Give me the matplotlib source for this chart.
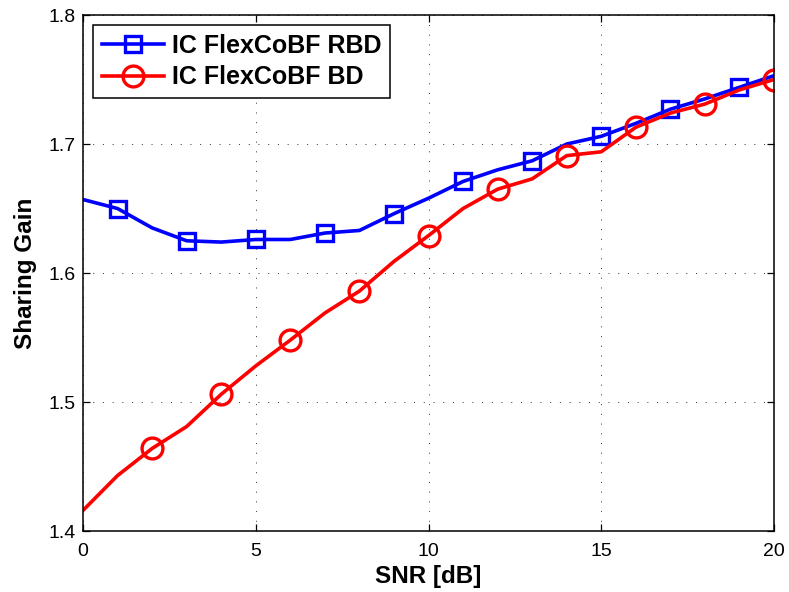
import matplotlib
matplotlib.use("Agg")
import matplotlib.pyplot as plt

snr = list(range(21))
rbd = [1.657, 1.650, 1.635, 1.625, 1.624, 1.626, 1.626, 1.631, 1.633, 1.646, 1.658,
       1.671, 1.680, 1.687, 1.700, 1.706, 1.716, 1.727, 1.735, 1.744, 1.753]
bd = [1.416, 1.443, 1.464, 1.481, 1.506, 1.528, 1.548, 1.569, 1.586, 1.609, 1.629,
      1.650, 1.665, 1.673, 1.691, 1.694, 1.713, 1.724, 1.731, 1.742, 1.750]
labels = ["IC FlexCoBF RBD", "IC FlexCoBF BD"]

plt.rcParams['font.family'] = ['Liberation Sans', 'DejaVu Sans']

fig = plt.figure(figsize=(7.89, 5.92), dpi=100)
ax = fig.add_axes([0.1052, 0.1030, 0.8758, 0.8716])

ax.plot(snr, rbd, color='#0000ff', lw=2.6, marker='s', markevery=slice(1, None, 2),
        markersize=12, markerfacecolor='none', markeredgewidth=2.4, label=labels[0])
ax.plot(snr, bd, color='#ff0000', lw=2.6, marker='o', markevery=slice(2, None, 2),
        markersize=15, markerfacecolor='none', markeredgewidth=2.4, label=labels[1])

ax.set_xlim(0, 20)
ax.set_ylim(1.4, 1.8)
ax.set_xticks([0, 5, 10, 15, 20])
ax.set_yticks([1.4, 1.5, 1.6, 1.7, 1.8])
ax.set_yticklabels(['1.4', '1.5', '1.6', '1.7', '1.8'])
ax.tick_params(direction='in', top=True, right=True, labelsize=14, length=5, width=0.9)
ax.tick_params(axis='x', pad=8.5)
ax.tick_params(axis='y', pad=5.2)
ax.grid(True, linestyle=(0, (1, 9)), color='#333333', linewidth=0.7)
for s in ax.spines.values():
    s.set_linewidth(1.1)

ax.set_xlabel('SNR [dB]', fontsize=17.5, fontweight='bold', labelpad=3.5)
ax.set_ylabel('Sharing Gain', fontsize=17.5, fontweight='bold', labelpad=8.5)

leg = ax.legend(loc='upper left', bbox_to_anchor=(0.0145, 0.9806),
                prop={'weight': 'bold', 'size': 18},
                fancybox=False, edgecolor='black', framealpha=1, borderaxespad=0,
                handlelength=2.5, handletextpad=0.3, borderpad=0.35, labelspacing=0.3)
leg.get_frame().set_linewidth(1.1)

fig.savefig('out.png', dpi=100)
